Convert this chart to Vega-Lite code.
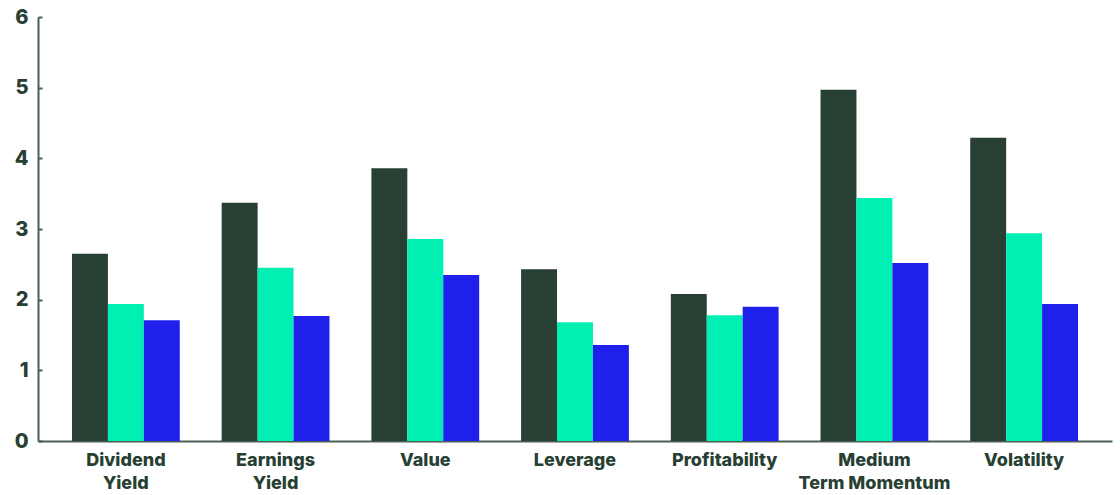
{
  "$schema": "https://vega.github.io/schema/vega-lite/v6.json",
  "width": 1074,
  "height": 424,
  "autosize": "none",
  "padding": {"left": 38, "top": 17, "right": 8, "bottom": 54},
  "background": "white",
  "config": {"view": {"stroke": null}},
  "data": {"values": [
    {"factor": "Dividend|Yield", "series": "A", "value": 2.65},
    {"factor": "Dividend|Yield", "series": "B", "value": 1.94},
    {"factor": "Dividend|Yield", "series": "C", "value": 1.71},
    {"factor": "Earnings|Yield", "series": "A", "value": 3.37},
    {"factor": "Earnings|Yield", "series": "B", "value": 2.45},
    {"factor": "Earnings|Yield", "series": "C", "value": 1.77},
    {"factor": "Value", "series": "A", "value": 3.86},
    {"factor": "Value", "series": "B", "value": 2.86},
    {"factor": "Value", "series": "C", "value": 2.35},
    {"factor": "Leverage", "series": "A", "value": 2.43},
    {"factor": "Leverage", "series": "B", "value": 1.68},
    {"factor": "Leverage", "series": "C", "value": 1.36},
    {"factor": "Profitability", "series": "A", "value": 2.08},
    {"factor": "Profitability", "series": "B", "value": 1.78},
    {"factor": "Profitability", "series": "C", "value": 1.90},
    {"factor": "Medium|Term Momentum", "series": "A", "value": 4.97},
    {"factor": "Medium|Term Momentum", "series": "B", "value": 3.44},
    {"factor": "Medium|Term Momentum", "series": "C", "value": 2.52},
    {"factor": "Volatility", "series": "A", "value": 4.29},
    {"factor": "Volatility", "series": "B", "value": 2.94},
    {"factor": "Volatility", "series": "C", "value": 1.94}
  ]},
  "mark": {"type": "bar"},
  "encoding": {
    "x": {
      "field": "factor", "type": "nominal", "sort": null,
      "scale": {"paddingInner": 0.28, "paddingOuter": 0.227},
      "axis": {
        "title": null, "labelAngle": 0, "ticks": false, "domainColor": "#4a5e55", "domainWidth": 2,
        "labelExpr": "split(datum.label, '|')",
        "labelFont": "Inter", "labelFontWeight": 800, "labelFontSize": 18, "labelColor": "#283f33",
        "labelPadding": 10, "labelLineHeight": 23
      }
    },
    "xOffset": {"field": "series", "type": "nominal", "scale": {"paddingInner": 0, "paddingOuter": 0}},
    "y": {
      "field": "value", "type": "quantitative",
      "scale": {"domain": [0, 6], "nice": false},
      "axis": {
        "title": null, "grid": false, "values": [0, 1, 2, 3, 4, 5, 6],
        "domainColor": "#4a5e55", "domainWidth": 2, "tickColor": "#4a5e55", "tickSize": -4, "tickWidth": 2,
        "labelFont": "Inter", "labelFontWeight": 800, "labelFontSize": 20, "labelColor": "#283f33",
        "labelPadding": 14
      }
    },
    "color": {
      "field": "series", "type": "nominal", "legend": null,
      "scale": {"domain": ["A", "B", "C"], "range": ["#283f33", "#00f0b4", "#2020ec"]}
    }
  }
}
